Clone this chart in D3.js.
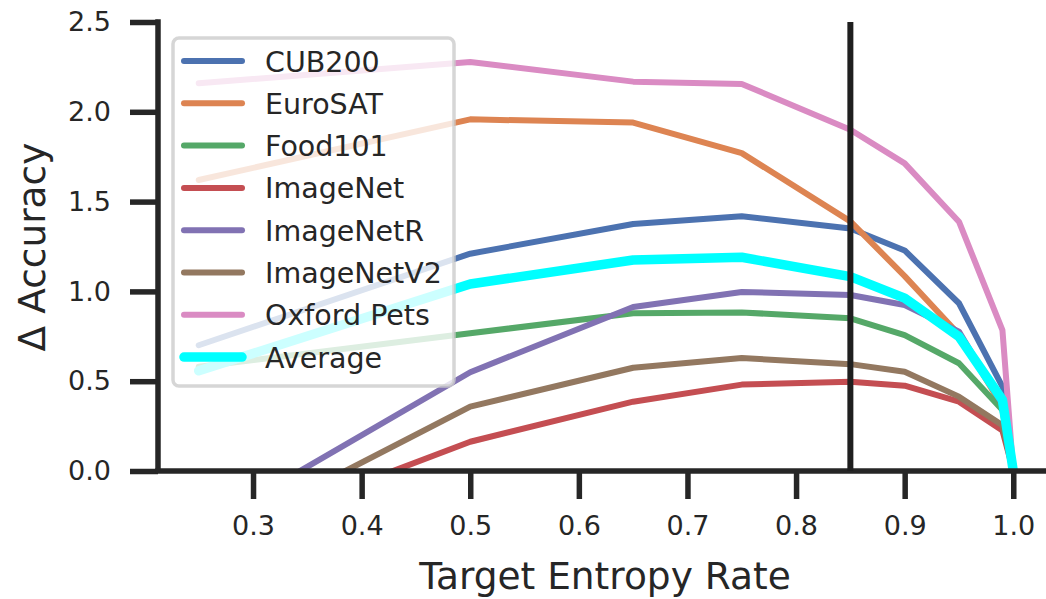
<!DOCTYPE html>
<html>
<head>
<meta charset="utf-8">
<script src="https://cdn.jsdelivr.net/npm/d3@7/dist/d3.min.js"></script>
<style>
  html, body { margin: 0; padding: 0; background: #ffffff; }
  svg { display: block; font-family: "DejaVu Sans", sans-serif; }
</style>
</head>
<body>
<svg id="chart" width="1046" height="599"></svg>
<script>
// Target entropy rates evaluated
const entropyRates = [0.25, 0.5, 0.65, 0.75, 0.85, 0.9, 0.95, 0.99, 1.0];

// Accuracy change per dataset at each rate
const cub200     = [0.70, 1.21, 1.375, 1.418, 1.35, 1.228, 0.934, 0.47, 0];
const euroSAT    = [1.62, 1.958, 1.94, 1.77, 1.39, 1.085, 0.76, 0.36, 0];
const food101    = [0.58, 0.767, 0.878, 0.883, 0.85, 0.757, 0.60, 0.34, 0];
const imageNet   = [-0.41, 0.163, 0.386, 0.481, 0.497, 0.475, 0.386, 0.225, 0];
const imageNetR  = [-0.327, 0.55, 0.913, 0.997, 0.98, 0.924, 0.776, 0.37, 0];
const imageNetV2 = [-0.42, 0.358, 0.575, 0.629, 0.595, 0.553, 0.414, 0.255, 0];
const oxfordPets = [2.159, 2.277, 2.168, 2.155, 1.90, 1.713, 1.388, 0.785, 0];
const average    = [0.558, 1.041, 1.175, 1.19, 1.082, 0.963, 0.748, 0.395, 0];

const seriesNames = ["CUB200", "EuroSAT", "Food101", "ImageNet", "ImageNetR", "ImageNetV2", "Oxford Pets", "Average"];
const seriesValues = [cub200, euroSAT, food101, imageNet, imageNetR, imageNetV2, oxfordPets, average];
const seriesColors = ["#4C72B0", "#DD8452", "#55A868", "#C44E52", "#8172B3", "#937860", "#DA8BC3", "#00FFFF"];

const xTicks = [0.3, 0.4, 0.5, 0.6, 0.7, 0.8, 0.9, 1.0];
const yTicks = [0.0, 0.5, 1.0, 1.5, 2.0, 2.5];
const markerRate = 0.85;

const ink = "#262626";
const svg = d3.select("#chart");

const x = d3.scaleLinear().domain([0.2125, 1.0375]).range([158, 1054]);
const y = d3.scaleLinear().domain([0, 2.5]).range([471, 22]);

// Clip region for the data lines
svg.append("defs").append("clipPath").attr("id", "plotArea")
  .append("rect")
  .attr("x", x.range()[0]).attr("y", y.range()[1])
  .attr("width", x.range()[1] - x.range()[0])
  .attr("height", y.range()[0] - y.range()[1]);

const line = d3.line()
  .x((d, i) => x(entropyRates[i]))
  .y(d => y(d));

const lines = svg.append("g").attr("clip-path", "url(#plotArea)");
seriesValues.forEach((vals, k) => {
  lines.append("path")
    .datum(vals)
    .attr("d", line)
    .attr("fill", "none")
    .attr("stroke", seriesColors[k])
    .attr("stroke-width", seriesNames[k] === "Average" ? 9.5 : 6)
    .attr("stroke-linejoin", "round")
    .attr("stroke-linecap", "round");
});

// Axes
const xAxis = d3.axisBottom(x).tickValues(xTicks).tickFormat(d3.format(".1f"))
  .tickSize(28).tickPadding(10).tickSizeOuter(0);
const yAxis = d3.axisLeft(y).tickValues(yTicks).tickFormat(d3.format(".1f"))
  .tickSize(28).tickPadding(19).tickSizeOuter(0);

const gx = svg.append("g").attr("transform", `translate(0,${y(0)})`).call(xAxis);
const gy = svg.append("g").attr("transform", `translate(${x.range()[0]},0)`).call(yAxis);

[gx, gy].forEach(g => {
  g.select(".domain").remove();
  g.selectAll(".tick line").attr("stroke", ink).attr("stroke-width", 5.5);
  g.selectAll(".tick text").attr("fill", ink).attr("font-size", 27)
    .attr("font-family", "DejaVu Sans");
});
gx.selectAll(".tick text").attr("dy", "0.95em");

// Spines
svg.append("line")
  .attr("x1", x.range()[0] - 2.75).attr("x2", 1046)
  .attr("y1", y(0)).attr("y2", y(0))
  .attr("stroke", ink).attr("stroke-width", 5.5);
svg.append("line")
  .attr("x1", x.range()[0]).attr("x2", x.range()[0])
  .attr("y1", y(2.5) - 2.75).attr("y2", y(0))
  .attr("stroke", ink).attr("stroke-width", 5.5);

// Chosen rate marker
svg.append("line")
  .attr("x1", x(markerRate)).attr("x2", x(markerRate))
  .attr("y1", y(2.5)).attr("y2", y(0))
  .attr("stroke", "#1f1f1f").attr("stroke-width", 6);

// Axis titles
svg.append("text")
  .attr("x", 605).attr("y", 589)
  .attr("text-anchor", "middle")
  .attr("font-size", 37.5).attr("fill", ink)
  .text("Target Entropy Rate");
svg.append("text")
  .attr("transform", "translate(45,247) rotate(-90)")
  .attr("text-anchor", "middle")
  .attr("font-size", 37.5).attr("fill", ink)
  .text("Δ Accuracy");

// Legend
const legend = svg.append("g");
legend.append("rect")
  .attr("x", 173).attr("y", 38).attr("width", 281).attr("height", 348)
  .attr("rx", 6).attr("ry", 6)
  .attr("fill", "#ffffff").attr("fill-opacity", 0.8)
  .attr("stroke", "#cccccc").attr("stroke-opacity", 0.8).attr("stroke-width", 3.5);

seriesNames.forEach((name, k) => {
  const cy = 61 + k * 42.3;
  legend.append("line")
    .attr("x1", 184).attr("x2", 242)
    .attr("y1", cy).attr("y2", cy)
    .attr("stroke", seriesColors[k])
    .attr("stroke-width", name === "Average" ? 9.5 : 6)
    .attr("stroke-linecap", "round");
  legend.append("text")
    .attr("x", 265).attr("y", cy + 10.5)
    .attr("font-size", 28.5).attr("fill", ink)
    .text(name);
});
</script>
</body>
</html>
